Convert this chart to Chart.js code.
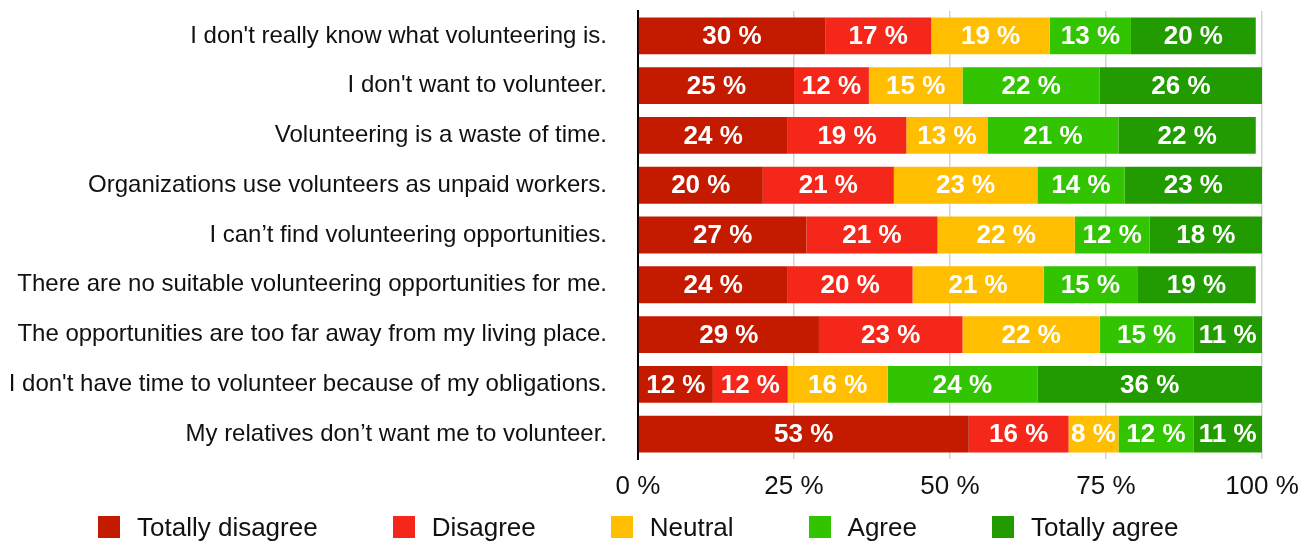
<!DOCTYPE html>
<html lang="en">
  <head>
    <meta charset="UTF-8" />
    <title>Reasons for not volunteering</title>
    <style>
      * {
        margin: 0;
        padding: 0;
        font-family: "Liberation Sans", Arial, sans-serif;
      }
      body {
        background: white;
      }
      .chartBox {
        position: relative;
        width: 1311px;
        height: 543px;
      }
      .legend {
        position: absolute;
        left: 98px;
        top: 516px;
        display: flex;
        align-items: center;
        height: 22px;
      }
      .legend .item {
        display: flex;
        align-items: center;
        margin-right: 75px;
        font-size: 26px;
        color: #111;
      }
      .legend .swatch {
        width: 22px;
        height: 22px;
        margin-right: 17px;
      }
    </style>
  </head>
  <body>
    <div class="chartBox">
      <canvas id="myChart"></canvas>
      <div class="legend" id="legend"></div>
    </div>

    <script src="https://cdn.jsdelivr.net/npm/chart.js"></script>
    <script>
      const statements = [
        "I don't really know what volunteering is.",
        "I don't want to volunteer.",
        "Volunteering is a waste of time.",
        "Organizations use volunteers as unpaid workers.",
        "I can’t find volunteering opportunities.",
        "There are no suitable volunteering opportunities for me.",
        "The opportunities are too far away from my living place.",
        "I don't have time to volunteer because of my obligations.",
        "My relatives don’t want me to volunteer.",
      ];

      const answers = ["Totally disagree", "Disagree", "Neutral", "Agree", "Totally agree"];
      const colors = ["#c41a00", "#f5261a", "#ffbf00", "#32c400", "#229b00"];

      const totallyDisagree = [30, 25, 24, 20, 27, 24, 29, 12, 53];
      const disagree = [17, 12, 19, 21, 21, 20, 23, 12, 16];
      const neutral = [19, 15, 13, 23, 22, 21, 22, 16, 8];
      const agree = [13, 22, 21, 14, 12, 15, 15, 24, 12];
      const totallyAgree = [20, 26, 22, 23, 18, 19, 11, 36, 11];

      const xTicks = [0, 25, 50, 75, 100];

      const series = [totallyDisagree, disagree, neutral, agree, totallyAgree];

      Chart.defaults.font.family = '"Liberation Sans", Arial, sans-serif';
      Chart.defaults.color = "#111";

      // write "NN %" in the middle of every bar segment
      const barLabels = {
        id: "barLabels",
        afterDatasetsDraw(chart) {
          const { ctx } = chart;
          ctx.save();
          ctx.fillStyle = "#fff";
          ctx.font = 'bold 26px "Liberation Sans", Arial, sans-serif';
          ctx.textAlign = "center";
          ctx.textBaseline = "middle";
          chart.data.datasets.forEach((ds, i) => {
            chart.getDatasetMeta(i).data.forEach((bar, j) => {
              const right = Math.min(bar.x, chart.chartArea.right);
              ctx.fillText(ds.data[j] + " %", (right + bar.base) / 2, bar.y + 1);
            });
          });
          ctx.restore();
        },
      };

      const ctx = document.getElementById("myChart");
      const myChart = new Chart(ctx, {
        type: "bar",
        data: {
          labels: statements,
          datasets: answers.map((name, i) => ({
            label: name,
            data: series[i],
            backgroundColor: colors[i],
            borderWidth: 0,
            categoryPercentage: 0.74,
            barPercentage: 1,
          })),
        },
        options: {
          indexAxis: "y",
          responsive: true,
          maintainAspectRatio: false,
          animation: false,
          layout: {
            padding: { top: 11, right: 49, bottom: 0, left: 0 },
          },
          plugins: {
            legend: { display: false },
            tooltip: { enabled: false },
          },
          scales: {
            x: {
              stacked: true,
              min: 0,
              max: 100,
              afterBuildTicks: (scale) => {
                scale.ticks = xTicks.map((v) => ({ value: v }));
              },
              afterFit: (scale) => {
                scale.height = 84;
              },
              grid: {
                color: "#d4d4d4",
                lineWidth: 1.5,
                drawTicks: false,
              },
              border: { display: false },
              ticks: {
                padding: 12,
                font: { size: 26 },
                color: "#111",
                callback: (value) => value + " %",
              },
            },
            y: {
              stacked: true,
              afterFit: (scale) => {
                scale.width = 638;
                scale.paddingTop = 0;
                scale.paddingBottom = 0;
              },
              grid: { display: false, drawTicks: false },
              border: { color: "#000", width: 2 },
              ticks: {
                padding: 31,
                font: { size: 24 },
                color: "#111",
              },
            },
          },
        },
        plugins: [barLabels],
      });

      // legend row under the axis
      const legend = document.getElementById("legend");
      answers.forEach((name, i) => {
        const item = document.createElement("div");
        item.className = "item";
        const swatch = document.createElement("span");
        swatch.className = "swatch";
        swatch.style.background = colors[i];
        const text = document.createElement("span");
        text.textContent = name;
        item.appendChild(swatch);
        item.appendChild(text);
        legend.appendChild(item);
      });
    </script>
  </body>
</html>
